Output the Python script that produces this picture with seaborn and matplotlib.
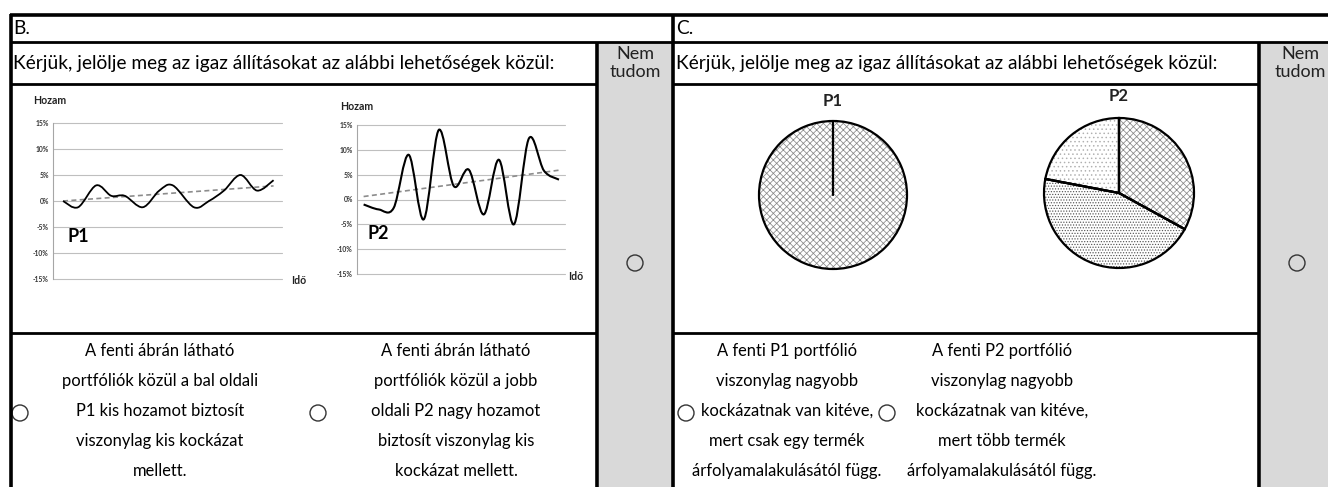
import numpy as np
import matplotlib
matplotlib.use("Agg")
import matplotlib.pyplot as plt
from matplotlib.patches import Rectangle, Circle, PathPatch
from matplotlib.path import Path
import seaborn as sns

# ----------- DATA ------------

p1_time = [0, 1, 2.2, 3.2, 4.1, 5.3, 6.4, 7.3, 8.7, 9.7, 10.7, 11.8, 12.9, 14]
p1_return = [0, -1.2, 3, 1, 1, -1.2, 2, 3, -1.2, 0, 2, 5, 2, 4]
p1_trend_time = [0, 14]
p1_trend = [0.0, 2.9]

p2_time = [0, 1, 2, 3, 4, 5, 6, 7, 8, 9, 10, 11, 12, 13]
p2_return = [-1, -2, -1.7, 9, -4, 14, 2.7, 6, -3, 8, -5, 12.3, 5.8, 4]
p2_trend_time = [0, 13]
p2_trend = [0.6, 5.9]

y_ticks = [-15, -10, -5, 0, 5, 10, 15]

pie_p1 = [100]
pie_p2 = [33, 45, 22]

question = "Kérjük, jelölje meg az igaz állításokat az alábbi lehetőségek közül:"
dont_know = ["Nem", "tudom"]

b_opt1 = ["A fenti ábrán látható", "portfóliók közül a bal oldali", "P1 kis hozamot biztosít",
          "viszonylag kis kockázat", "mellett."]
b_opt2 = ["A fenti ábrán látható", "portfóliók közül a jobb", "oldali P2 nagy hozamot",
          "biztosít viszonylag kis", "kockázat mellett."]
c_opt1 = ["A fenti P1 portfólió", "viszonylag nagyobb", "kockázatnak van kitéve,",
          "mert csak egy termék", "árfolyamalakulásától függ."]
c_opt2 = ["A fenti P2 portfólió", "viszonylag nagyobb", "kockázatnak van kitéve,",
          "mert több termék", "árfolyamalakulásától függ."]

# ----------- STYLE ------------

sns.set_theme(style="white")
plt.rcParams['font.family'] = ['Lato', 'DejaVu Sans']
plt.rcParams['text.color'] = 'black'
plt.rcParams['hatch.linewidth'] = 0.55

W, H = 1328, 487
fig = plt.figure(figsize=(W / 100, H / 100), dpi=100)
fig.patch.set_facecolor("white")

# background axes in pixel coordinates for the form
bg = fig.add_axes([0, 0, 1, 1])
bg.set_xlim(0, W)
bg.set_ylim(H, 0)
bg.axis("off")


def px_axes(x0, y0, x1, y1):
    return fig.add_axes([x0 / W, 1 - y1 / H, (x1 - x0) / W, (y1 - y0) / H])


def smooth_path(xs, ys):
    # Catmull-Rom style smoothing, like the "smoothed line" of a spreadsheet
    pts = np.column_stack([xs, ys]).astype(float)
    ext = np.vstack([pts[0], pts, pts[-1]])
    verts = [pts[0]]
    codes = [Path.MOVETO]
    for i in range(1, len(ext) - 2):
        p0, p1, p2, p3 = ext[i - 1], ext[i], ext[i + 1], ext[i + 2]
        verts += [p1 + (p2 - p0) / 6, p2 - (p3 - p1) / 6, p2]
        codes += [Path.CURVE4] * 3
    return Path(verts, codes)


# ----------- FORM GRID ------------

gray = "#d9d9d9"
bg.add_patch(Rectangle((599, 42), 72, H - 42, color=gray, zorder=0))
bg.add_patch(Rectangle((1261, 42), 70, H - 42, color=gray, zorder=0))

lw_thick = 2.6
lw_mid = 2.0
bg.plot([10, W], [15, 15], color="black", lw=lw_thick, solid_capstyle="butt")
bg.plot([11, 11], [14, H], color="black", lw=lw_thick, solid_capstyle="butt")
bg.plot([673, 673], [14, H], color="black", lw=lw_thick, solid_capstyle="butt")
bg.plot([597, 597], [42, H], color="black", lw=lw_thick, solid_capstyle="butt")
bg.plot([1259, 1259], [42, H], color="black", lw=lw_thick, solid_capstyle="butt")
bg.plot([11, W], [42, 42], color="black", lw=lw_mid, solid_capstyle="butt")
for y in (84, 333):
    bg.plot([11, 597], [y, y], color="black", lw=lw_mid, solid_capstyle="butt")
    bg.plot([673, 1259], [y, y], color="black", lw=lw_mid, solid_capstyle="butt")

fs_q = 13.8
fs_a = 11.9
bg.text(13, 29, "B.", fontsize=fs_q, va="center", ha="left")
bg.text(676, 29, "C.", fontsize=fs_q, va="center", ha="left")
bg.text(13, 63, question, fontsize=fs_q, va="center", ha="left")
bg.text(676, 63, question, fontsize=fs_q, va="center", ha="left")
for cx in (635, 1300):
    bg.text(cx, 54, dont_know[0], fontsize=13, va="center", ha="center", color="#222222")
    bg.text(cx, 72, dont_know[1], fontsize=13, va="center", ha="center", color="#222222")

# radio buttons
for cx, cy in [(635, 263), (1297, 263), (20, 413), (318, 413), (686, 413), (887, 413)]:
    bg.add_patch(Circle((cx, cy), 8, fill=False, edgecolor="#333333", lw=1.0))

# answer texts
for cx, lines in [(160, b_opt1), (456, b_opt2), (787, c_opt1), (1002, c_opt2)]:
    for i, line in enumerate(lines):
        bg.text(cx, 351 + 30 * i, line, fontsize=fs_a, va="center", ha="center")

# ----------- LINE CHARTS ------------


def line_chart(box, xlim, t, r, tt, tr, name, name_xy, lw):
    ax = px_axes(*box)
    ax.set_xlim(xlim)
    ax.set_ylim(-15, 15)
    for v in y_ticks:
        ax.axhline(v, color="#bfbfbf", lw=0.8, clip_on=False, zorder=0)
    sns.despine(ax=ax, left=False, bottom=True)
    ax.spines["left"].set_color("#a6a6a6")
    ax.spines["left"].set_linewidth(0.8)
    ax.set_xticks([])
    ax.set_yticks(y_ticks)
    ax.set_yticklabels([f"{v}%" for v in y_ticks], fontsize=4.9, fontweight="bold", color="#333333")
    ax.tick_params(axis="y", length=0, pad=3)
    ax.patch.set_alpha(0)

    sns.lineplot(x=tt, y=tr, ax=ax, color="#8c8c8c", lw=1.2, linestyle=(0, (3, 2)))
    ax.add_patch(PathPatch(smooth_path(t, r), fill=False, edgecolor="black", lw=lw,
                           clip_on=False, zorder=3))
    ax.set_xlabel("")
    ax.set_ylabel("")
    ax.text(*name_xy, name, transform=ax.transAxes, fontsize=13, fontweight="bold",
            va="center", ha="left")
    return ax


line_chart((53, 123, 282, 279), (-0.67, 14.56), p1_time, p1_return,
           p1_trend_time, p1_trend, "P1", (0.065, 0.27), 1.3)
line_chart((357, 125, 565, 274), (-0.44, 13.4), p2_time, p2_return,
           p2_trend_time, p2_trend, "P2", (0.05, 0.27), 1.5)

bg.text(33, 101, "Hozam", fontsize=7.6, fontweight="bold", va="center", ha="left", color="#222222")
bg.text(340, 106, "Hozam", fontsize=7.6, fontweight="bold", va="center", ha="left", color="#222222")
bg.text(291, 280, "Idő", fontsize=7.6, fontweight="bold", va="center", ha="left", color="#222222")
bg.text(568, 276, "Idő", fontsize=7.6, fontweight="bold", va="center", ha="left", color="#222222")

# ----------- PIE CHARTS ------------


def pie_chart(cx, cy, r, values, hatches, hcolors, title, title_y):
    pad = 1.05
    ax = px_axes(cx - r * pad, cy - r * pad, cx + r * pad, cy + r * pad)
    wedges, _ = ax.pie(values, startangle=90, counterclock=False, colors=["white"] * len(values),
                       wedgeprops=dict(lw=0))
    for w, h, c in zip(wedges, hatches, hcolors):
        w.set_hatch(h)
        w.set_edgecolor(c)
        w.set_linewidth(0)
    outline, _ = ax.pie(values, startangle=90, counterclock=False,
                        wedgeprops=dict(fill=False, edgecolor="black", lw=1.6))
    # slice border at the start angle (a single full slice draws no radius)
    for w in outline:
        a = np.deg2rad(w.theta2 if len(values) == 1 else w.theta1)
        ax.plot([0, np.cos(a)], [0, np.sin(a)], color="black", lw=1.6)
    ax.set_xlim(-pad, pad)
    ax.set_ylim(-pad, pad)
    ax.set_aspect("equal")
    ax.axis("off")
    bg.text(cx, title_y, title, fontsize=12, fontweight="bold", va="center", ha="center",
            color="#222222")


pie_chart(833, 195, 74, pie_p1, ["xxxxx"], ["#8a8a8a"], "P1", 101)
pie_chart(1119, 193, 75, pie_p2, ["xxxxx", "......", "...."],
          ["#8a8a8a", "#555555", "#b0b0b0"], "P2", 96)

fig.savefig("out.png", dpi=100)
